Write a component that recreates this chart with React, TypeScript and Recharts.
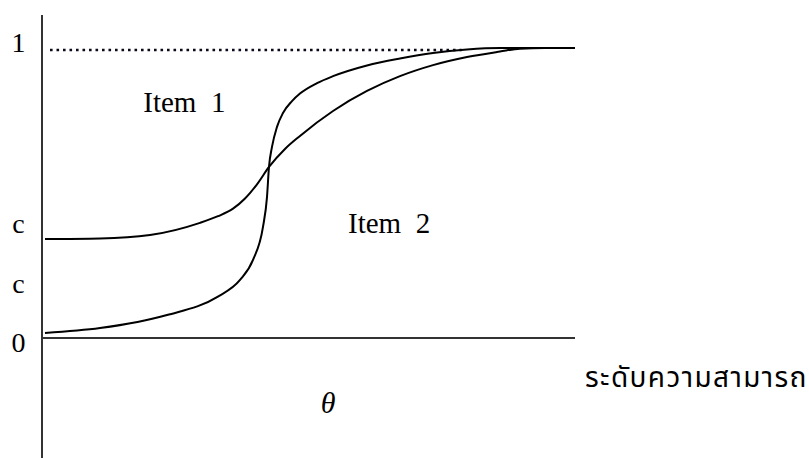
import React from 'react';
import { ComposedChart, Line, XAxis, YAxis, ReferenceLine, ReferenceDot } from 'recharts';

// ability scale (theta) and probability values
const item1Theta = [-3.955, -3.129, -2.379, -1.629, -1.358, -1.133, -0.953, -0.773, -0.593, -0.353, -0.128, 0.368, 0.878, 1.373, 1.869, 2.379, 2.874, 3.174, 3.55, 4.0];
const item1P = [0.341, 0.343, 0.355, 0.397, 0.42, 0.446, 0.481, 0.53, 0.59, 0.652, 0.697, 0.783, 0.852, 0.903, 0.941, 0.969, 0.988, 0.998, 1.0, 1.0];

const item2Theta = [-3.955, -3.129, -2.124, -1.373, -1.028, -0.833, -0.683, -0.623, -0.593, -0.548, -0.473, -0.383, -0.248, -0.128, 0.128, 0.368, 0.878, 1.373, 1.869, 2.379, 2.874, 4.0];
const item2P = [0.017, 0.034, 0.079, 0.141, 0.2, 0.269, 0.383, 0.486, 0.59, 0.659, 0.728, 0.776, 0.817, 0.843, 0.879, 0.903, 0.94, 0.964, 0.983, 0.995, 1.0, 1.0];

const yTickValues = [0, 0.19, 0.395, 1];
const yTickLabels = ['0', 'c', 'c', '1'];

const dottedLevel = 0.9933;
const dottedFrom = -3.88;
const dottedTo = 2.3;

const item1Label = { theta: -2.48, p: 0.779, text: 'Item\u00a0\u00a01' };
const item2Label = { theta: 0.593, p: 0.362, text: 'Item\u00a0\u00a02' };
const thetaLabel = { theta: 0.293, p: -0.259, text: 'θ' };
const thaiLabel = { theta: 4.15, p: -0.169, text: 'ระดับความสามารถ' };

const item1Data = item1Theta.map((t, i) => ({ theta: t, p: item1P[i] }));
const item2Data = item2Theta.map((t, i) => ({ theta: t, p: item2P[i] }));

const SERIF = '"Liberation Serif", "Times New Roman", serif';

const YTick = (props: any) => {
  const { x, y, payload } = props;
  const idx = yTickValues.indexOf(payload.value);
  const label = yTickLabels[idx] ?? '';
  const shift = payload.value === 0 ? 4 : payload.value === 1 ? -6 : 0;
  return (
    <text x={x - 23.5} y={y + shift} dy="0.35em" textAnchor="middle" fontFamily={SERIF} fontSize={28} fill="#000">
      {label}
    </text>
  );
};

const makeLabel = (txt: string, style: any) => (props: any) => {
  const vb = props.viewBox || {};
  const x = (vb.x ?? 0) + (vb.width ?? 0) / 2;
  const y = (vb.y ?? 0) + (vb.height ?? 0) / 2;
  return (
    <text x={x} y={y} {...style}>
      {txt}
    </text>
  );
};

export default function App() {
  return (
    <div style={{ position: 'absolute', left: 0, top: 0, width: 809, height: 458, background: '#fff' }}>
      <ComposedChart width={809} height={458} margin={{ top: 15, right: 234, bottom: 0, left: 0 }}>
        <XAxis type="number" dataKey="theta" domain={[-4, 4]} allowDataOverflow hide />
        <YAxis
          type="number"
          domain={[-0.414, 1.114]}
          allowDataOverflow
          width={42}
          ticks={yTickValues}
          interval={0}
          tickLine={false}
          tickSize={0}
          tickMargin={0}
          axisLine={{ stroke: '#333', strokeWidth: 2 }}
          tick={<YTick />}
        />
        <ReferenceLine y={0} stroke="#333" strokeWidth={2} />
        <ReferenceLine
          segment={[{ x: dottedFrom, y: dottedLevel }, { x: dottedTo, y: dottedLevel }]}
          stroke="#0a0a1a"
          strokeWidth={2.6}
          strokeDasharray="2.6 3.9"
        />
        <Line data={item1Data} dataKey="p" type="monotone" stroke="#000" strokeWidth={2} dot={false} isAnimationActive={false} />
        <Line data={item2Data} dataKey="p" type="monotone" stroke="#000" strokeWidth={2} dot={false} isAnimationActive={false} />
        <ReferenceDot
          x={item1Label.theta}
          y={item1Label.p}
          r={0}
          fill="none"
          stroke="none"
          ifOverflow="visible"
          label={makeLabel(item1Label.text, { fontFamily: SERIF, fontSize: 29, fill: '#000', textAnchor: 'start' })}
        />
        <ReferenceDot
          x={item2Label.theta}
          y={item2Label.p}
          r={0}
          fill="none"
          stroke="none"
          ifOverflow="visible"
          label={makeLabel(item2Label.text, { fontFamily: SERIF, fontSize: 29, fill: '#000', textAnchor: 'start' })}
        />
        <ReferenceDot
          x={thetaLabel.theta}
          y={thetaLabel.p}
          r={0}
          fill="none"
          stroke="none"
          ifOverflow="visible"
          label={makeLabel(thetaLabel.text, { fontFamily: SERIF, fontStyle: 'italic', fontSize: 30, fill: '#000', textAnchor: 'middle' })}
        />
        <ReferenceDot
          x={thaiLabel.theta}
          y={thaiLabel.p}
          r={0}
          fill="none"
          stroke="none"
          ifOverflow="visible"
          label={makeLabel(thaiLabel.text, { fontFamily: 'Tahoma, "Noto Sans Thai", "DejaVu Sans", sans-serif', fontSize: 28, letterSpacing: 1.4, fill: '#000', textAnchor: 'start' })}
        />
      </ComposedChart>
    </div>
  );
}
